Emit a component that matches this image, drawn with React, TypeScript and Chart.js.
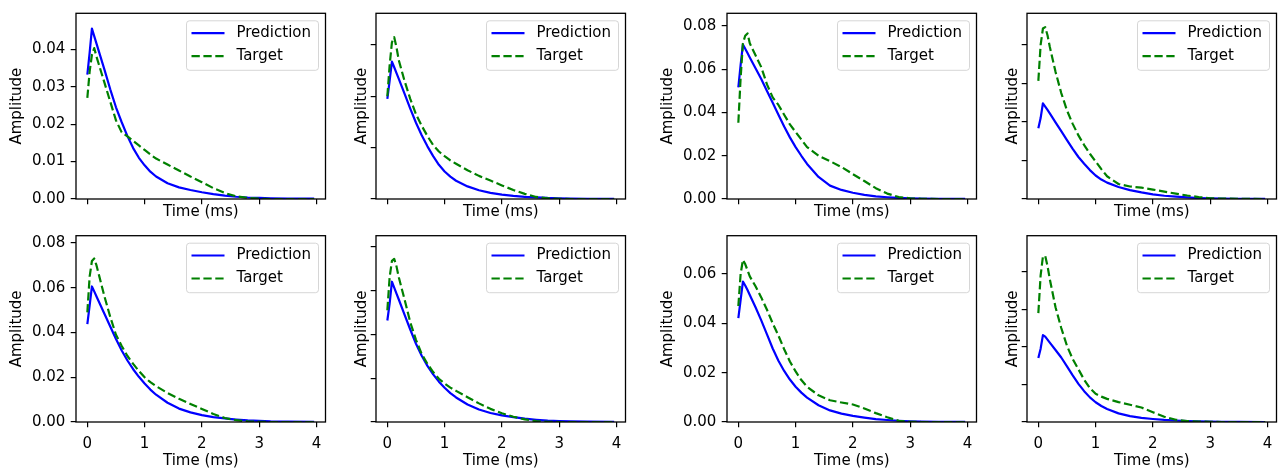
import React, { useEffect, useRef } from 'react';
import { Chart, registerables } from 'chart.js';

Chart.register(...registerables);

// ---------- data ----------
const TIME_MS = [0, 0.04, 0.08, 0.12, 0.16, 0.2, 0.3, 0.4, 0.5, 0.6, 0.7, 0.8, 0.9, 1.0, 1.1, 1.2, 1.4, 1.6, 1.8, 2.0, 2.2, 2.4, 2.6, 2.8, 3.0, 3.2, 3.5, 3.96];
const X_TICKS = [0, 1, 2, 3, 4];
const X_MIN = -0.198;
const X_MAX = 4.158;

const PRED_1 = [0.0332, 0.039, 0.0455, 0.0435, 0.0415, 0.0395, 0.0345, 0.0293, 0.0245, 0.0205, 0.0168, 0.0136, 0.011, 0.009, 0.0073, 0.006, 0.0042, 0.0031, 0.0024, 0.0018, 0.0013, 0.0009, 0.0006, 0.0004, 0.0003, 0.0002, 0.0001, 0.0001];
const TARGET_1 = [0.027, 0.034, 0.0385, 0.0403, 0.038, 0.036, 0.031, 0.026, 0.021, 0.0178, 0.0167, 0.0155, 0.0143, 0.0131, 0.0119, 0.0108, 0.0092, 0.0076, 0.006, 0.0045, 0.0029, 0.0016, 0.0007, 0.0003, 0.0001, 0, 0, 0];

const PRED_2 = [0.039, 0.046, 0.0535, 0.0513, 0.049, 0.0468, 0.041, 0.0352, 0.0297, 0.0248, 0.0205, 0.0167, 0.0133, 0.0107, 0.0087, 0.0071, 0.0049, 0.0034, 0.0024, 0.0017, 0.0012, 0.0008, 0.0006, 0.0004, 0.0003, 0.0002, 0.0001, 0.0001];
const TARGET_2 = [0.040, 0.052, 0.061, 0.063, 0.059, 0.054, 0.046, 0.039, 0.033, 0.0285, 0.0245, 0.021, 0.0185, 0.0167, 0.015, 0.0137, 0.0112, 0.009, 0.0072, 0.0053, 0.0035, 0.002, 0.0008, 0.0003, 0.0001, 0, 0, 0];

const PRED_3 = [0.0516, 0.062, 0.0715, 0.0695, 0.0675, 0.0655, 0.0605, 0.0555, 0.050, 0.0445, 0.039, 0.0335, 0.0285, 0.024, 0.020, 0.0162, 0.0102, 0.0062, 0.0042, 0.0029, 0.0019, 0.0012, 0.0008, 0.0005, 0.0003, 0.0002, 0.0001, 0.0001];
const TARGET_3 = [0.0353, 0.056, 0.072, 0.0755, 0.0766, 0.072, 0.0665, 0.061, 0.053, 0.047, 0.0435, 0.039, 0.0345, 0.031, 0.0275, 0.024, 0.020, 0.0175, 0.0148, 0.0115, 0.0083, 0.005, 0.0025, 0.0009, 0.0003, 0.0001, 0, 0];

const PRED_4 = [0.0367, 0.042, 0.0497, 0.048, 0.0463, 0.0445, 0.0398, 0.0352, 0.0306, 0.026, 0.0218, 0.0183, 0.015, 0.0122, 0.0101, 0.0085, 0.0062, 0.0046, 0.0034, 0.0024, 0.0017, 0.0012, 0.0008, 0.0005, 0.0003, 0.0002, 0.0001, 0.0001];
const TARGET_4 = [0.0613, 0.080, 0.0885, 0.0892, 0.085, 0.079, 0.066, 0.055, 0.046, 0.039, 0.033, 0.028, 0.0235, 0.0195, 0.0155, 0.0118, 0.0078, 0.0065, 0.0059, 0.0049, 0.0038, 0.0028, 0.0018, 0.001, 0.0004, 0.0002, 0.0001, 0];

const PRED_5 = [0.0438, 0.052, 0.0606, 0.0584, 0.0561, 0.0539, 0.0483, 0.0427, 0.0371, 0.032, 0.0275, 0.0236, 0.0202, 0.0172, 0.0145, 0.0122, 0.0086, 0.006, 0.0043, 0.0031, 0.0022, 0.0016, 0.0011, 0.0007, 0.0005, 0.0003, 0.0002, 0.0001];
const TARGET_5 = [0.049, 0.065, 0.072, 0.0731, 0.070, 0.066, 0.056, 0.047, 0.039, 0.034, 0.0295, 0.026, 0.0228, 0.020, 0.0178, 0.016, 0.013, 0.0104, 0.0081, 0.0058, 0.0036, 0.0018, 0.0008, 0.0003, 0.0001, 0, 0, 0];

const PRED_6 = [0.0463, 0.054, 0.064, 0.0613, 0.0586, 0.0559, 0.049, 0.0422, 0.0357, 0.0302, 0.0256, 0.0217, 0.0184, 0.0156, 0.0132, 0.0112, 0.008, 0.0057, 0.0041, 0.003, 0.0022, 0.0015, 0.001, 0.0006, 0.0004, 0.0003, 0.0002, 0.0001];
const TARGET_6 = [0.051, 0.066, 0.0735, 0.0744, 0.071, 0.066, 0.056, 0.0455, 0.0375, 0.031, 0.0265, 0.0228, 0.0197, 0.0175, 0.0157, 0.0142, 0.0113, 0.0085, 0.006, 0.004, 0.0024, 0.0012, 0.0004, 0.0001, 0, 0, 0, 0];

const PRED_7 = [0.0421, 0.0495, 0.0569, 0.0553, 0.0535, 0.0515, 0.0465, 0.0412, 0.0355, 0.0298, 0.0248, 0.0207, 0.0172, 0.0143, 0.0119, 0.0099, 0.0068, 0.0047, 0.0034, 0.0025, 0.0018, 0.0012, 0.0008, 0.0005, 0.0003, 0.0002, 0.0001, 0.0001];
const TARGET_7 = [0.047, 0.060, 0.0657, 0.064, 0.0615, 0.059, 0.055, 0.0505, 0.0455, 0.040, 0.035, 0.0295, 0.0245, 0.0205, 0.017, 0.0143, 0.0108, 0.0088, 0.0079, 0.0071, 0.0055, 0.0036, 0.0019, 0.0005, 0.0001, 0, 0, 0];

const PRED_8 = [0.034, 0.039, 0.0462, 0.0454, 0.0438, 0.0422, 0.0383, 0.0343, 0.0296, 0.0248, 0.0203, 0.0164, 0.0131, 0.0105, 0.0085, 0.0069, 0.0046, 0.0031, 0.0022, 0.0016, 0.0011, 0.0008, 0.0005, 0.0003, 0.0002, 0.0001, 0.0001, 0];
const TARGET_8 = [0.0579, 0.078, 0.088, 0.0883, 0.083, 0.076, 0.061, 0.050, 0.0405, 0.0335, 0.028, 0.0225, 0.018, 0.015, 0.0135, 0.0123, 0.0106, 0.0092, 0.0077, 0.0052, 0.0028, 0.0012, 0.0005, 0.0002, 0.0001, 0, 0, 0];

const Y_MAX = [0.0496, 0.0723, 0.0859, 0.0964, 0.0833, 0.085, 0.0755, 0.0991];
const Y_TICKS_1 = [0, 0.01, 0.02, 0.03, 0.04];
const Y_TICKS_2 = [0, 0.02, 0.04, 0.06];
const Y_TICKS_3 = [0, 0.02, 0.04, 0.06, 0.08];
const Y_TICKS_4 = [0, 0.02, 0.04, 0.06, 0.08];
const Y_TICKS_5 = [0, 0.02, 0.04, 0.06, 0.08];
const Y_TICKS_6 = [0, 0.02, 0.04, 0.06, 0.08];
const Y_TICKS_7 = [0, 0.02, 0.04, 0.06];
const Y_TICKS_8 = [0, 0.02, 0.04, 0.06, 0.08];

const SERIES_NAMES = ['Prediction', 'Target'];
const X_TITLE = 'Time (ms)';
const Y_TITLE = 'Amplitude';

const PREDS = [PRED_1, PRED_2, PRED_3, PRED_4, PRED_5, PRED_6, PRED_7, PRED_8];
const TARGETS = [TARGET_1, TARGET_2, TARGET_3, TARGET_4, TARGET_5, TARGET_6, TARGET_7, TARGET_8];
const Y_TICKS = [Y_TICKS_1, Y_TICKS_2, Y_TICKS_3, Y_TICKS_4, Y_TICKS_5, Y_TICKS_6, Y_TICKS_7, Y_TICKS_8];

// ---------- layout ----------
const FONT = 'DejaVu Sans';
const FS = 15;
const COL_CANVAS_LEFT = [6, 306, 657, 957];
const Y_TITLE_PAD = [1.7, 46.7, 2.3, 47.3];
const Y_AXIS_W = 70;
const CANVAS_W = 323;
const PAD_RIGHT = 3.5;
const ROWS = [
  { top: 0, height: 221, padTop: 13.3, xH: 22, xTitlePad: 0.3, showX: false },
  { top: 223, height: 248, padTop: 12.7, xH: 49, xTitlePad: 1, showX: true },
];

const mplPlugin = {
  id: 'mplFrameLegend',
  afterDatasetsDraw(chart: any) {
    const { ctx, chartArea: a } = chart;
    ctx.save();
    // spines
    ctx.strokeStyle = '#000';
    ctx.lineWidth = 1.3;
    ctx.setLineDash([]);
    ctx.strokeRect(a.left, a.top, a.right - a.left, a.bottom - a.top);
    // legend
    const bw = 132;
    const bh = 49.5;
    const bx = a.right - 7 - bw;
    const by = a.top + 7.5;
    const r = 3;
    ctx.beginPath();
    ctx.moveTo(bx + r, by);
    ctx.lineTo(bx + bw - r, by);
    ctx.arcTo(bx + bw, by, bx + bw, by + r, r);
    ctx.lineTo(bx + bw, by + bh - r);
    ctx.arcTo(bx + bw, by + bh, bx + bw - r, by + bh, r);
    ctx.lineTo(bx + r, by + bh);
    ctx.arcTo(bx, by + bh, bx, by + bh - r, r);
    ctx.lineTo(bx, by + r);
    ctx.arcTo(bx, by, bx + r, by, r);
    ctx.closePath();
    ctx.fillStyle = 'rgba(255,255,255,0.8)';
    ctx.fill();
    ctx.strokeStyle = 'rgba(204,204,204,0.8)';
    ctx.lineWidth = 1;
    ctx.stroke();
    chart.data.datasets.forEach((ds: any, i: number) => {
      const y = by + 12.3 + i * 23;
      ctx.beginPath();
      ctx.setLineDash(ds.borderDash || []);
      ctx.strokeStyle = ds.borderColor;
      ctx.lineWidth = ds.borderWidth;
      ctx.lineCap = 'butt';
      ctx.moveTo(bx + 5, y);
      ctx.lineTo(bx + 38, y);
      ctx.stroke();
      ctx.setLineDash([]);
      ctx.fillStyle = '#000';
      ctx.font = `${FS}px "${FONT}"`;
      ctx.textBaseline = 'middle';
      ctx.textAlign = 'left';
      ctx.fillText(ds.label, bx + 50, y);
    });
    ctx.restore();
  },
};

function Panel({ idx }: { idx: number }) {
  const ref = useRef<HTMLCanvasElement>(null);
  const row = ROWS[Math.floor(idx / 4)];
  const col = idx % 4;
  const showY = col % 2 === 0;

  useEffect(() => {
    const pred = PREDS[idx];
    const target = TARGETS[idx];
    const yTicks = Y_TICKS[idx];
    const chart = new Chart(ref.current as HTMLCanvasElement, {
      type: 'line',
      data: {
        datasets: [
          {
            label: SERIES_NAMES[0],
            data: TIME_MS.map((t, i) => ({ x: t, y: pred[i] })),
            borderColor: '#0000ff',
            borderWidth: 2.2,
            pointRadius: 0,
            fill: false,
            tension: 0,
            borderJoinStyle: 'round',
            order: 1,
          },
          {
            label: SERIES_NAMES[1],
            data: TIME_MS.map((t, i) => ({ x: t, y: target[i] })),
            borderColor: '#008000',
            borderWidth: 2.2,
            borderDash: [8.3, 3.6],
            pointRadius: 0,
            fill: false,
            tension: 0,
            borderJoinStyle: 'round',
            order: 0,
          },
        ],
      },
      options: {
        animation: false,
        responsive: false,
        devicePixelRatio: 1,
        events: [],
        layout: { padding: { left: 0, top: row.padTop, right: PAD_RIGHT, bottom: 0 } },
        plugins: { legend: { display: false }, tooltip: { enabled: false } },
        scales: {
          x: {
            type: 'linear',
            min: X_MIN,
            max: X_MAX,
            afterBuildTicks: (s: any) => {
              s.ticks = X_TICKS.map((v) => ({ value: v }));
            },
            afterFit: (s: any) => {
              s.height = row.xH;
            },
            ticks: {
              display: row.showX,
              padding: 5,
              color: '#000',
              font: { family: FONT, size: FS, lineHeight: 1.6 },
              maxRotation: 0,
              autoSkip: false,
              callback: (v: any) => String(v),
            },
            grid: { drawOnChartArea: false, drawTicks: true, tickLength: 5.3, color: '#000', lineWidth: 1.2 },
            border: { display: false },
            title: {
              display: true,
              text: X_TITLE,
              color: '#000',
              font: { family: FONT, size: FS },
              padding: { top: 0, bottom: row.xTitlePad },
            },
          },
          y: {
            type: 'linear',
            min: 0,
            max: Y_MAX[idx],
            afterBuildTicks: (s: any) => {
              s.ticks = yTicks.map((v) => ({ value: v }));
            },
            afterFit: (s: any) => {
              s.width = Y_AXIS_W;
            },
            ticks: {
              display: showY,
              padding: 5.4,
              color: '#000',
              font: { family: FONT, size: FS, lineHeight: 0.9 },
              callback: (v: any) => Number(v).toFixed(2),
            },
            grid: { drawOnChartArea: false, drawTicks: true, tickLength: 5.3, color: '#000', lineWidth: 1.2 },
            border: { display: false },
            title: {
              display: true,
              text: Y_TITLE,
              color: '#000',
              font: { family: FONT, size: FS },
              padding: { top: Y_TITLE_PAD[col], bottom: 0 },
            },
          },
        },
      } as any,
      plugins: [mplPlugin],
    });
    return () => chart.destroy();
  }, [idx]);

  return (
    <canvas
      ref={ref}
      width={CANVAS_W}
      height={row.height}
      style={{
        position: 'absolute',
        left: COL_CANVAS_LEFT[col],
        top: row.top,
        width: CANVAS_W,
        height: row.height,
      }}
    />
  );
}

export default function App() {
  return (
    <div
      style={{
        position: 'fixed',
        left: 0,
        top: 0,
        width: 1279,
        height: 471,
        background: '#ffffff',
        overflow: 'hidden',
      }}
    >
      {[0, 1, 2, 3, 4, 5, 6, 7].map((i) => (
        <Panel key={i} idx={i} />
      ))}
    </div>
  );
}
